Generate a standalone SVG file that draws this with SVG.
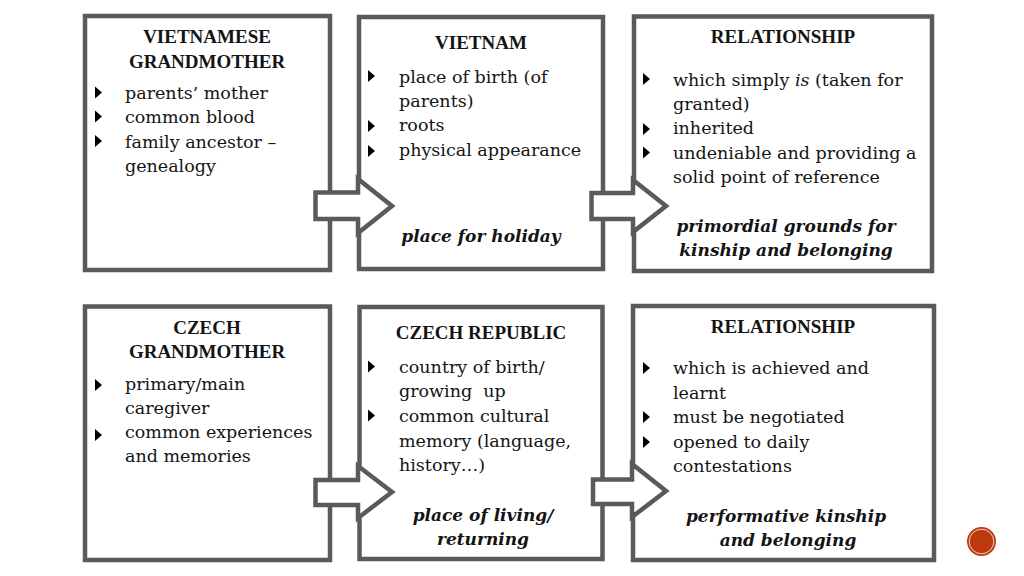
<svg xmlns="http://www.w3.org/2000/svg" width="1024" height="576" viewBox="0 0 1024 576">
<style>
.box{fill:#fff;stroke:#5a5a5a;stroke-width:4.5}
.arr{fill:#fff;stroke:#5a5a5a;stroke-width:4.5;stroke-linejoin:miter}
text{font-family:"DejaVu Serif","Liberation Serif",serif;fill:#141414}
.h{font-family:"Liberation Serif","DejaVu Serif",serif;font-weight:bold;font-size:19px;text-anchor:middle}
.b{font-size:17.5px}
.i{font-weight:bold;font-style:italic;font-size:17px;text-anchor:middle}
.bul{fill:#000}
</style>
<defs>
<path id="tri" d="M0,-6 L7,0 L0,6 Z"/>
</defs>
<rect width="1024" height="576" fill="#fff"/>

<g id="viet-grandmother">
<rect class="box" x="85" y="16" width="245" height="254"/>
<text class="h" x="207" y="43">VIETNAMESE</text>
<text class="h" x="207" y="68">GRANDMOTHER</text>
<use href="#tri" class="bul" x="95" y="92.5"/>
<use href="#tri" class="bul" x="95" y="116.5"/>
<use href="#tri" class="bul" x="95" y="141"/>
<text class="b" x="125" y="99">parents’ mother</text>
<text class="b" x="125" y="123">common blood</text>
<text class="b" x="125" y="147.5">family ancestor –</text>
<text class="b" x="125" y="171.5">genealogy</text>
</g>

<g id="vietnam">
<rect class="box" x="359" y="17" width="244" height="252"/>
<text class="h" x="481" y="49">VIETNAM</text>
<use href="#tri" class="bul" x="368" y="76"/>
<use href="#tri" class="bul" x="368" y="126"/>
<use href="#tri" class="bul" x="368" y="151"/>
<text class="b" x="399" y="82.5">place of birth (of</text>
<text class="b" x="399" y="107">parents)</text>
<text class="b" x="399" y="131">roots</text>
<text class="b" x="399" y="155.5">physical appearance</text>
<text class="i" x="481" y="242">place for holiday</text>
</g>

<g id="relationship-1">
<rect class="box" x="634" y="16.5" width="298" height="254.5"/>
<text class="h" x="783" y="43">RELATIONSHIP</text>
<use href="#tri" class="bul" x="643" y="79"/>
<use href="#tri" class="bul" x="643" y="129"/>
<use href="#tri" class="bul" x="643" y="152.5"/>
<text class="b" x="673" y="86">which simply <tspan font-style="italic">is</tspan> (taken for</text>
<text class="b" x="673" y="110">granted)</text>
<text class="b" x="673" y="134">inherited</text>
<text class="b" x="673" y="159">undeniable and providing a</text>
<text class="b" x="673" y="183">solid point of reference</text>
<text class="i" x="786" y="232">primordial grounds for</text>
<text class="i" x="786" y="256">kinship and belonging</text>
</g>

<g id="czech-grandmother">
<rect class="box" x="85" y="306.5" width="245" height="253.5"/>
<text class="h" x="207" y="334">CZECH</text>
<text class="h" x="207" y="358">GRANDMOTHER</text>
<use href="#tri" class="bul" x="95" y="385"/>
<use href="#tri" class="bul" x="95" y="435"/>
<text class="b" x="125" y="389.5">primary/main</text>
<text class="b" x="125" y="413.5">caregiver</text>
<text class="b" x="125" y="437.5">common experiences</text>
<text class="b" x="125" y="461.5">and memories</text>
</g>

<g id="czech-republic">
<rect class="box" x="359.5" y="307" width="243" height="252"/>
<text class="h" x="481" y="339">CZECH REPUBLIC</text>
<use href="#tri" class="bul" x="368" y="366.5"/>
<use href="#tri" class="bul" x="368" y="415.5"/>
<text class="b" x="399" y="372.5">country of birth/</text>
<text class="b" x="399" y="397" xml:space="preserve">growing  up</text>
<text class="b" x="399" y="421.5">common cultural</text>
<text class="b" x="399" y="446.5">memory (language,</text>
<text class="b" x="399" y="470.5">history…)</text>
<text class="i" x="483" y="521">place of living/</text>
<text class="i" x="483" y="545">returning</text>
</g>

<g id="relationship-2">
<rect class="box" x="633" y="306" width="301" height="254"/>
<text class="h" x="783" y="333">RELATIONSHIP</text>
<use href="#tri" class="bul" x="643" y="368"/>
<use href="#tri" class="bul" x="643" y="417"/>
<use href="#tri" class="bul" x="643" y="442"/>
<text class="b" x="673" y="374">which is achieved and</text>
<text class="b" x="673" y="398.5">learnt</text>
<text class="b" x="673" y="423">must be negotiated</text>
<text class="b" x="673" y="447.5">opened to daily</text>
<text class="b" x="673" y="472">contestations</text>
<text class="i" x="786" y="522">performative kinship</text>
<text class="i" x="788" y="546">and belonging</text>
</g>

<g id="connectors">
<polygon class="arr" points="315.5,192.5 358,192.5 358,179 392,206 358,233 358,219 315.5,219"/>
<polygon class="arr" points="591.5,193 633,193 633,180 666,206 633,232 633,219 591.5,219"/>
<polygon class="arr" points="315.5,480 358,480 358,466 392,492 358,518 358,505 315.5,505"/>
<polygon class="arr" points="593,479.5 632,479.5 632,464 666,491 632,517 632,504 593,504"/>
</g>

<g id="page-badge">
<circle cx="981.5" cy="541.5" r="14.5" fill="#bd3a10"/>
<circle cx="981.5" cy="541.5" r="12.3" fill="none" stroke="#f3d0c0" stroke-width="1"/>
</g>
</svg>
